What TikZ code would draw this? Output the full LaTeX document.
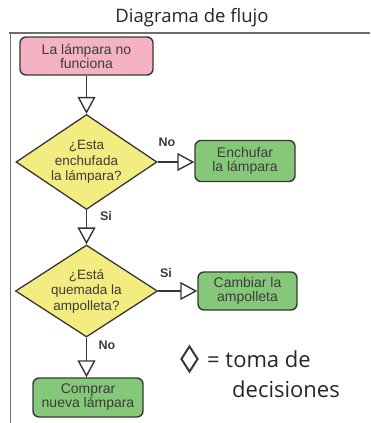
\documentclass[tikz,border=0pt]{standalone}
\usepackage{fontspec}
\setmainfont{Liberation Sans}
\newfontfamily\titlefont{Open Sans}
\usetikzlibrary{shapes.geometric,arrows.meta}
\definecolor{pinkf}{RGB}{244,178,195}
\definecolor{greenf}{RGB}{134,200,122}
\definecolor{yellowf}{RGB}{243,236,128}
\definecolor{edgec}{RGB}{55,55,55}
\definecolor{txt}{RGB}{60,60,60}
\definecolor{framec}{RGB}{110,110,110}
\begin{document}
\begin{tikzpicture}[x=1pt,y=-1pt,
  box/.style={draw=edgec, line width=1.4pt, rounded corners=6pt, align=center,
    inner sep=0pt, font=\fontsize{14}{14}\selectfont, text=txt},
  dec/.style={diamond, aspect=1.5, draw=edgec, line width=1.3pt, fill=yellowf, align=center,
    inner sep=0pt, font=\fontsize{13.5}{15.5}\selectfont, text=txt},
  flow/.style={draw=edgec, line width=1.4pt,
    -{Triangle[length=17pt, width=18pt, fill=white]}},
  lab/.style={font=\bfseries\fontsize{12.5}{13}\selectfont, text=txt},
  frameline/.style={draw=framec, line width=1.6pt}
]
\useasboundingbox (0,0) rectangle (370,423);
% frame
\coordinate (fTR) at (370,33);
\coordinate (fTL) at (9,33);
\coordinate (fBL) at (10.5,423);
\draw[frameline] (fTR) -- (fTL);
\draw[frameline] (10.5,33) -- (fBL);
% title
\node[font=\titlefont\fontsize{18.5}{20}\selectfont, text=black!85] (title) at (192,18) {Diagrama de flujo};
% nodes
\node[box, fill=pinkf, minimum width=133pt, minimum height=38pt] (n1) at (86.5,56) {La lámpara no\\funciona};
\node[dec, minimum width=141pt, minimum height=95pt] (d1) at (86.5,162) {¿Esta\\enchufada\\la lámpara?};
\node[box, fill=greenf, minimum width=100pt, minimum height=41pt] (g1) at (245,161) {Enchufar\\la lámpara};
\node[dec, minimum width=142pt, minimum height=92pt] (d2) at (86.5,291) {¿Está\\quemada la\\ampolleta?};
\node[box, fill=greenf, minimum width=99pt, minimum height=38pt] (g2) at (247.5,291) {Cambiar la\\ampolleta};
\node[box, fill=greenf, minimum width=110pt, minimum height=39pt] (g3) at (88,397.5) {Comprar\\nueva lámpara};
% connectors
\draw[flow] (n1.south) -- (d1.north);
\draw[flow] (d1.east) -- (g1.west |- d1.east);
\draw[flow] (d1.south) -- (d2.north);
\draw[flow] (d2.east) -- (g2.west |- d2.east);
\draw[flow] (d2.south) -- (d2.south |- g3.north);
% labels
\node[lab] (lno1) at (167,142) {No};
\node[lab] (lsi1) at (106,216) {Si};
\node[lab] (lsi2) at (166,273) {Si};
\node[lab] (lno2) at (107,345) {No};
% legend
\node[diamond, draw=edgec, line width=2pt, minimum width=17pt, minimum height=26pt, inner sep=0pt] (leg) at (189.5,359) {};
\node[anchor=base west, font=\titlefont\fontsize{22}{30}\selectfont, text=black!85, inner sep=0pt] (leg1) at (207,367) {= toma de};
\node[anchor=base west, font=\titlefont\fontsize{22}{30}\selectfont, text=black!85, inner sep=0pt] (leg2) at (232,397) {decisiones};
\end{tikzpicture}
\end{document}
